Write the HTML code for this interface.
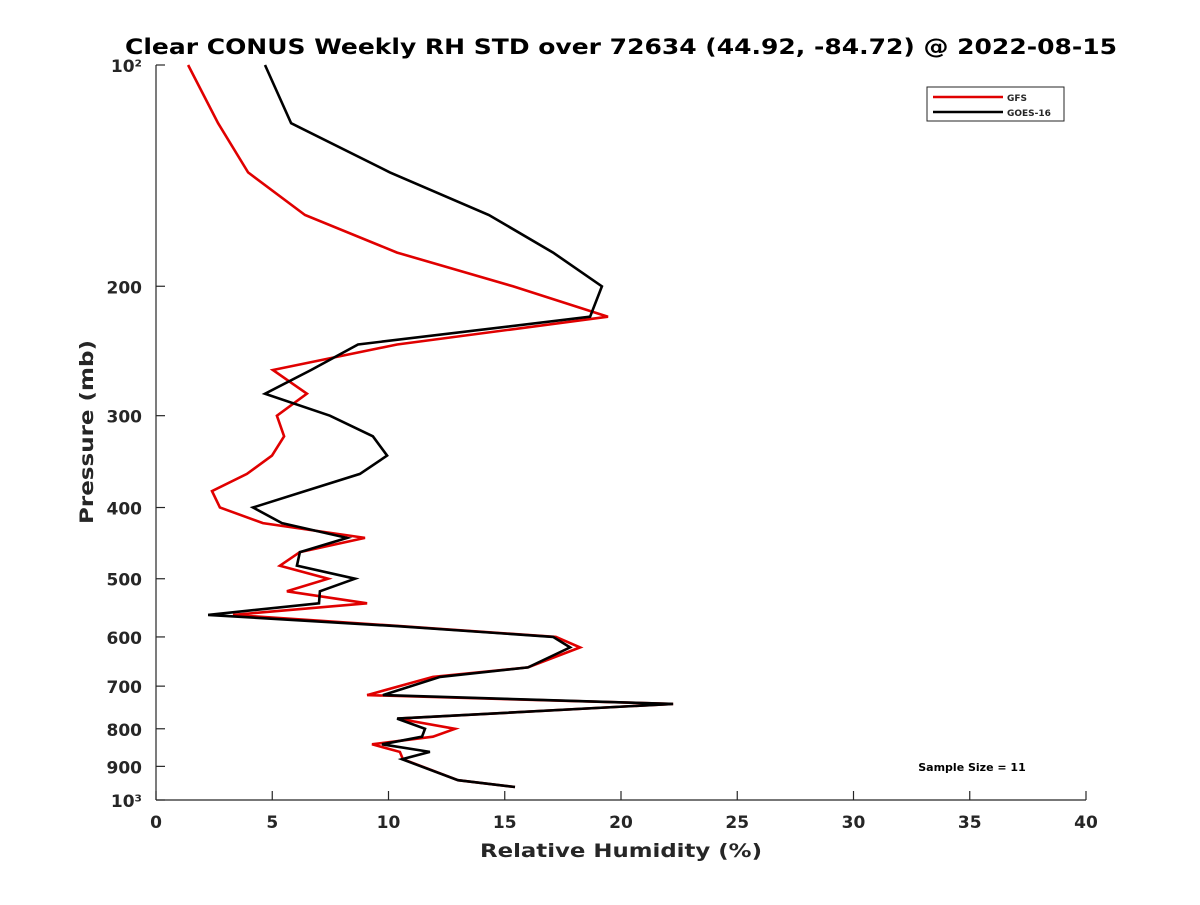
<!DOCTYPE html>
<html><head><meta charset="utf-8"><style>
body{margin:0;background:#fff}
svg text{font-family:"DejaVu Sans","Liberation Sans",sans-serif;font-weight:bold;fill:#262626}
</style></head><body>
<svg id="chart" width="1200" height="900" viewBox="0 0 1200 900">
<rect width="1200" height="900" fill="#fff"/>
<text x="621" y="54" font-size="21" text-anchor="middle" textLength="992" lengthAdjust="spacingAndGlyphs" style="fill:#000">Clear CONUS Weekly RH STD over 72634 (44.92, -84.72) @ 2022-08-15</text>
<g id="axes"></g>
<g id="series"></g>
<text x="621" y="857" font-size="19" text-anchor="middle" textLength="282" lengthAdjust="spacingAndGlyphs">Relative Humidity (%)</text>
<text transform="translate(93,432) rotate(-90)" font-size="19" text-anchor="middle" textLength="184" lengthAdjust="spacingAndGlyphs">Pressure (mb)</text>
<g>
<rect x="927" y="87" width="137" height="34" fill="#fff" stroke="#262626" stroke-width="1"/>
<line x1="933" y1="97" x2="1003" y2="97" stroke="#e00000" stroke-width="2.5"/>
<text x="1007" y="101" font-size="9">GFS</text>
<line x1="933" y1="112" x2="1003" y2="112" stroke="#000" stroke-width="2.5"/>
<text x="1007" y="116" font-size="9">GOES-16</text>
</g>
<text x="972" y="771" font-size="11" text-anchor="middle" style="fill:#000">Sample Size = 11</text>
</svg>
<script>
const pressure=[100,120,140,160,180,200,220,240,260,280,300,320,340,360,380,400,420,440,460,480,500,520,540,560,580,600,620,660,680,720,740,775,800,820,840,860,880,940,960];
const goesValues=[4.69,5.81,10.06,14.32,17.08,19.18,18.67,8.69,6.67,4.69,7.48,9.33,9.94,8.77,6.41,4.17,5.42,8.22,6.19,6.06,8.56,7.05,7.01,2.24,10.32,17.08,17.81,16.0,12.22,9.76,22.24,10.37,11.57,11.44,9.72,11.78,10.58,12.99,15.44];
const gfsValues=[1.38,2.67,3.96,6.41,10.37,15.35,19.44,10.37,5.03,6.49,5.2,5.51,4.99,3.91,2.41,2.75,4.6,8.99,6.19,5.33,7.4,5.63,9.08,3.31,10.49,17.2,18.24,16.0,11.91,9.08,22.24,10.41,12.86,11.91,9.29,10.49,10.62,12.99,15.44];
const xTicks=[0,5,10,15,20,25,30,35,40];
const yTicks=[100,200,300,400,500,600,700,800,900,1000];
const yTickLabels=["10²","200","300","400","500","600","700","800","900","10³"];
const X0=156,X1=1086,Y0=65,Y1=800;
const xs=v=>X0+(v-0)/(40-0)*(X1-X0);
const ys=p=>Y0+(Math.log10(p)-2)*(Y1-Y0);
const NS="http://www.w3.org/2000/svg";
const axes=document.getElementById('axes'),ser=document.getElementById('series');
function mk(tag,attrs,parent,txt){const e=document.createElementNS(NS,tag);for(const k in attrs)e.setAttribute(k,attrs[k]);if(txt!==undefined)e.textContent=txt;parent.appendChild(e);return e;}
let e=mk('line',{x1:X0,y1:Y0,x2:X0,y2:Y1,stroke:'#262626','stroke-width':1.2},axes);


e=mk('line',{x1:X0,y1:Y1,x2:X1,y2:Y1,stroke:'#262626','stroke-width':1.2},axes);


xTicks.forEach(t=>{
  const x=xs(t);
  mk('line',{x1:x,y1:Y1,x2:x,y2:Y1-9,stroke:'#262626','stroke-width':1.2},axes);
  const l=mk('text',{x:x,y:Y1+28,'font-size':17,'text-anchor':'middle'},axes,String(t));
  
  
});
yTicks.forEach((p,i)=>{
  const y=ys(p);
  mk('line',{x1:X0,y1:y,x2:X0+9,y2:y,stroke:'#262626','stroke-width':1.2},axes);
  const l=mk('text',{x:X0-14,y:y+7,'font-size':17,'text-anchor':'end'},axes,yTickLabels[i]);
  
  
});
function line(vals,color,name){
  const pts=vals.map((v,i)=>xs(v).toFixed(1)+','+ys(pressure[i]).toFixed(1)).join(' ');
  const pl=mk('polyline',{points:pts,fill:'none',stroke:color,'stroke-width':2.6,'stroke-linejoin':'miter'},ser);
  
  
}
line(gfsValues,'#e00000','gfs-line');
line(goesValues,'#000000','goes16-line');
</script>
</body></html>
